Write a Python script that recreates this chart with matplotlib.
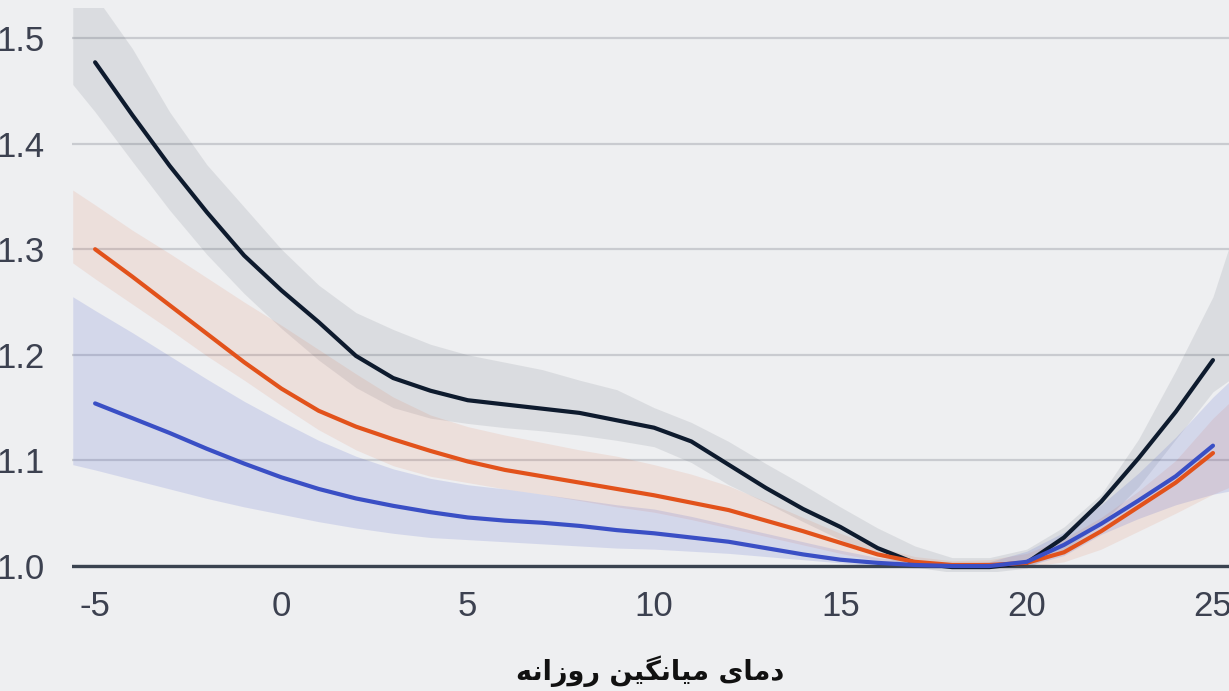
import matplotlib
matplotlib.use("Agg")
import matplotlib.pyplot as plt
import numpy as np

plt.rcParams["axes.unicode_minus"] = False

# --------------------------------------
# data

x_line = [-5, -4, -3, -2, -1, 0, 1, 2, 3, 4, 5, 6, 7, 8, 9, 10, 11, 12, 13, 14, 15,
          16, 17, 18, 19, 20, 21, 22, 23, 24, 25]

navy = [1.477, 1.427, 1.379, 1.335, 1.294, 1.261, 1.231, 1.199, 1.178, 1.166, 1.157,
        1.153, 1.149, 1.145, 1.138, 1.131, 1.118, 1.096, 1.074, 1.054, 1.037,
        1.017, 1.003, 0.999, 0.999, 1.003, 1.027, 1.061, 1.102, 1.146, 1.195]

orange = [1.300, 1.274, 1.247, 1.220, 1.193, 1.168, 1.147, 1.132, 1.120, 1.109, 1.099,
          1.091, 1.085, 1.079, 1.073, 1.067, 1.060, 1.053, 1.043, 1.033, 1.022,
          1.011, 1.004, 1.001, 1.001, 1.003, 1.013, 1.033, 1.056, 1.079, 1.107]

blue = [1.154, 1.140, 1.126, 1.111, 1.097, 1.084, 1.073, 1.064, 1.057, 1.051, 1.046,
        1.043, 1.041, 1.038, 1.034, 1.031, 1.027, 1.023, 1.017, 1.011, 1.006,
        1.003, 1.001, 1.000, 1.000, 1.004, 1.020, 1.040, 1.062, 1.085, 1.114]

x_band = [-5.6, -5, -4, -3, -2, -1, 0, 1, 2, 3, 4, 5, 6, 7, 8, 9, 10, 11, 12, 13, 14, 15,
          16, 17, 18, 19, 20, 21, 22, 23, 24, 25, 25.6]

navy_hi = [1.570, 1.540, 1.490, 1.430, 1.380, 1.340, 1.300, 1.266, 1.240, 1.224, 1.210,
           1.200, 1.193, 1.186, 1.176, 1.167, 1.150, 1.136, 1.118, 1.097, 1.077, 1.056,
           1.036, 1.019, 1.008, 1.008, 1.016, 1.037, 1.068, 1.120, 1.185, 1.255, 1.320]
navy_lo = [1.456, 1.430, 1.383, 1.337, 1.295, 1.258, 1.225, 1.195, 1.169, 1.150, 1.140,
           1.135, 1.131, 1.128, 1.124, 1.119, 1.113, 1.098, 1.077, 1.060, 1.042, 1.025,
           1.010, 0.999, 0.994, 0.994, 0.998, 1.015, 1.040, 1.075, 1.120, 1.165, 1.180]

orange_hi = [1.356, 1.342, 1.318, 1.296, 1.273, 1.250, 1.228, 1.205, 1.182, 1.160, 1.143,
             1.132, 1.124, 1.117, 1.110, 1.104, 1.096, 1.087, 1.076, 1.061, 1.046, 1.031,
             1.018, 1.009, 1.005, 1.006, 1.012, 1.026, 1.046, 1.071, 1.100, 1.140, 1.160]
orange_lo = [1.287, 1.272, 1.248, 1.224, 1.199, 1.176, 1.152, 1.129, 1.110, 1.095, 1.085,
             1.079, 1.073, 1.068, 1.062, 1.056, 1.051, 1.044, 1.036, 1.028, 1.020, 1.012,
             1.005, 1.000, 0.998, 0.998, 0.999, 1.004, 1.016, 1.033, 1.050, 1.068, 1.077]

blue_hi = [1.255, 1.242, 1.221, 1.199, 1.177, 1.156, 1.137, 1.119, 1.104, 1.092, 1.083,
           1.077, 1.073, 1.068, 1.063, 1.058, 1.054, 1.047, 1.039, 1.031, 1.023, 1.015,
           1.008, 1.004, 1.002, 1.004, 1.014, 1.032, 1.058, 1.088, 1.122, 1.160, 1.180]
blue_lo = [1.096, 1.091, 1.082, 1.073, 1.064, 1.056, 1.049, 1.042, 1.036, 1.031, 1.027,
           1.025, 1.023, 1.021, 1.019, 1.017, 1.016, 1.014, 1.012, 1.009, 1.006, 1.003,
           1.000, 0.998, 0.998, 0.998, 1.000, 1.010, 1.030, 1.045, 1.058, 1.068, 1.072]

x_ticks = [-5, 0, 5, 10, 15, 20, 25]
y_ticks = [1.0, 1.1, 1.2, 1.3, 1.4, 1.5]

xlabel = "دمای میانگین روزانه"

# --------------------------------------
# tiny arabic-script shaper (matplotlib does no shaping / bidi)

forms = {
    "د": (0xFEA9, 0xFEAA, None, None),
    "ر": (0xFEAD, 0xFEAE, None, None),
    "ز": (0xFEAF, 0xFEB0, None, None),
    "و": (0xFEED, 0xFEEE, None, None),
    "ا": (0xFE8D, 0xFE8E, None, None),
    "م": (0xFEE1, 0xFEE2, 0xFEE3, 0xFEE4),
    "ن": (0xFEE5, 0xFEE6, 0xFEE7, 0xFEE8),
    "ی": (0xFBFC, 0xFBFD, 0xFBFE, 0xFBFF),
    "گ": (0xFB92, 0xFB93, 0xFB94, 0xFB95),
    "ه": (0xFEE9, 0xFEEA, 0xFEEB, 0xFEEC),
}


def shape(text):
    out = []
    for i, ch in enumerate(text):
        if ch not in forms:
            out.append(ch)
            continue
        prev = text[i - 1] if i > 0 else " "
        nxt = text[i + 1] if i < len(text) - 1 else " "
        join_prev = prev in forms and forms[prev][2] is not None
        join_next = nxt in forms and forms[ch][2] is not None
        iso, fin, ini, med = forms[ch]
        if join_prev and join_next:
            c = med
        elif join_prev:
            c = fin
        elif join_next:
            c = ini
        else:
            c = iso
        out.append(chr(c))
    return "".join(out)[::-1]


# --------------------------------------

bg = "#eeeff1"
fig = plt.figure(figsize=(12.29, 6.91), dpi=100, facecolor=bg)
ax = fig.add_axes([72 / 1229, 120 / 691, 1 - 72 / 1229, 563 / 691])
ax.set_facecolor(bg)

ax.fill_between(x_band, navy_lo, navy_hi, color="#1a2638", alpha=0.09, lw=0, zorder=2)
ax.fill_between(x_band, orange_lo, orange_hi, color="#e0531f", alpha=0.10, lw=0, zorder=2)
ax.fill_between(x_band, blue_lo, blue_hi, color="#3f51c8", alpha=0.15, lw=0, zorder=2)

for ys, col in [(navy, "#0e1b2e"), (orange, "#e2521b"), (blue, "#3a4fc5")]:
    ax.plot(x_line, ys, color=col, lw=3, solid_capstyle="round",
            solid_joinstyle="round", zorder=5)

ax.axhline(1.0, color="#3a4350", lw=2.4, zorder=4)

ax.set_xlim(-5.62, 25.43)
ax.set_ylim(0.9953, 1.5284)
ax.set_xticks(x_ticks)
ax.set_yticks(y_ticks)
ax.set_yticklabels([f"{v:.1f}" for v in y_ticks])
ax.yaxis.grid(True, color="#c9cbd0", lw=1.6, zorder=1)
ax.set_axisbelow(True)
for s in ax.spines.values():
    s.set_visible(False)
ax.tick_params(axis="both", length=0, labelsize=25, labelcolor="#3c4150")
ax.tick_params(axis="y", pad=20)
ax.tick_params(axis="x", pad=14)
for lab in ax.get_xticklabels() + ax.get_yticklabels():
    lab.set_fontfamily("Liberation Sans")

fig.text(650 / 1229, 1 - 671 / 691, shape(xlabel), ha="center", va="center",
         fontsize=19.5, fontweight="bold", color="#111111",
         family=["DejaVu Sans", "Noto Sans"])

fig.savefig("out.png", dpi=100, facecolor=bg)
